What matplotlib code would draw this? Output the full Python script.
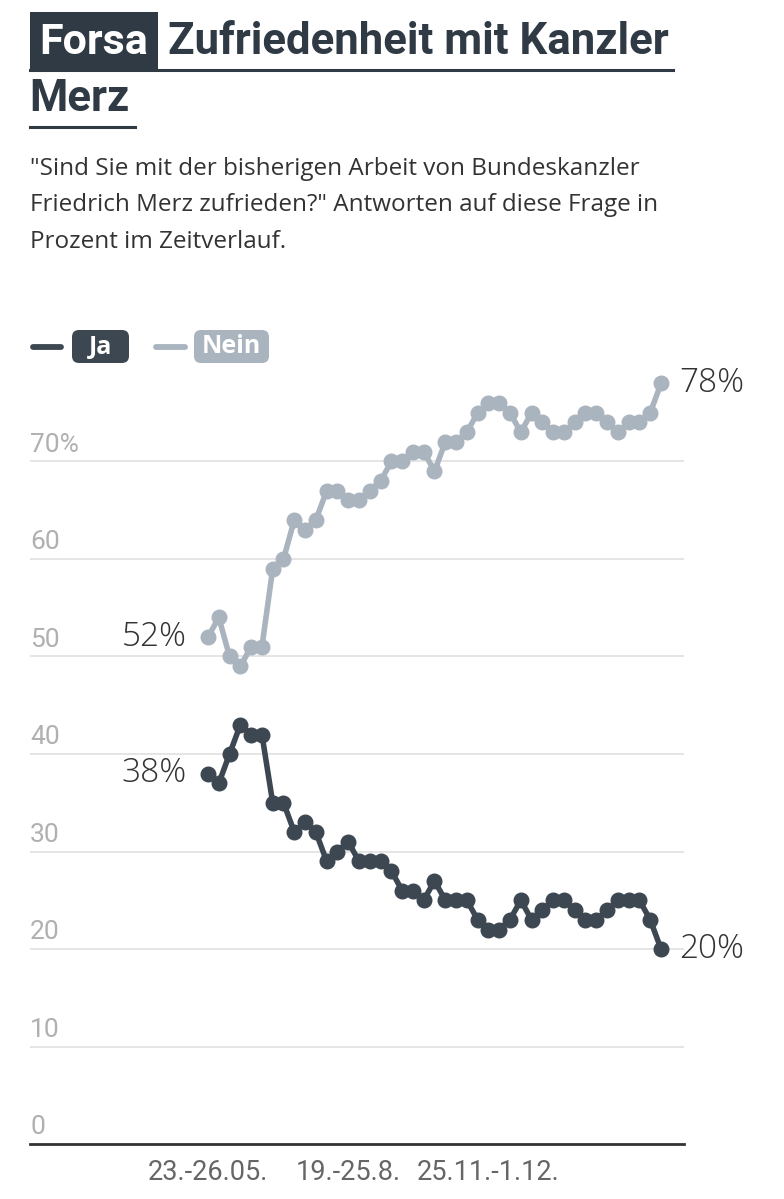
import matplotlib.pyplot as plt
from matplotlib.lines import Line2D
from matplotlib.patches import Rectangle, FancyBboxPatch
from matplotlib.transforms import IdentityTransform

# Forsa weekly values (percent)
ja = [38, 37, 40, 43, 42, 42, 35, 35, 32, 33, 32, 29, 30, 31, 29, 29, 29, 28, 26, 26,
      25, 27, 25, 25, 25, 23, 22, 22, 23, 25, 23, 24, 25, 25, 24, 23, 23, 24, 25, 25,
      25, 23, 20]
nein = [52, 54, 50, 49, 51, 51, 59, 60, 64, 63, 64, 67, 67, 66, 66, 67, 68, 70, 70, 71,
        71, 69, 72, 72, 73, 75, 76, 76, 75, 73, 75, 74, 73, 73, 74, 75, 75, 74, 73, 74,
        74, 75, 78]
x_ticks = [0, 13, 26]
x_labels = ["23.-26.05.", "19.-25.8.", "25.11.-1.12."]
y_ticks = [0, 10, 20, 30, 40, 50, 60, 70]
y_labels = ["0", "10", "20", "30", "40", "50", "60", "70%"]

c_ja = "#3d4751"
c_nein = "#aab4be"
c_text = "#2f3a44"

W, H = 784, 1199
fig = plt.figure(figsize=(W / 100, H / 100), dpi=100)
plt.rcParams['font.family'] = ['Open Sans', 'DejaVu Sans']
title_font = ['Roboto', 'DejaVu Sans']
tick_font = ['Roboto', 'DejaVu Sans']


def fx(px):
    return px / W


def fy(py):
    return 1 - py / H


# header
fig.add_artist(Rectangle((fx(30), fy(70)), fx(128), 58 / H, transform=fig.transFigure,
                         fc=c_text, ec='none'))
fig.text(fx(94), fy(42), "Forsa", fontsize=31, fontweight='bold', color='white',
         va='center', ha='center', family=title_font)
fig.text(fx(168), fy(42), "Zufriedenheit mit Kanzler", fontsize=31.5, fontweight='bold',
         color=c_text, va='center', ha='left', family=title_font)
fig.text(fx(29), fy(99), "Merz", fontsize=31.5, fontweight='bold', color=c_text,
         va='center', ha='left', family=title_font)
fig.add_artist(Line2D([fx(30), fx(673)], [fy(69.5), fy(69.5)], color=c_text, lw=2.2))
fig.add_artist(Line2D([fx(30), fx(135)], [fy(127), fy(127)], color=c_text, lw=2.2))

sub = ['"Sind Sie mit der bisherigen Arbeit von Bundeskanzler',
       'Friedrich Merz zufrieden?" Antworten auf diese Frage in',
       'Prozent im Zeitverlauf.']
for i, line in enumerate(sub):
    fig.text(fx(30), fy(169 + i * 36.5), line, fontsize=17.5, color='#333333',
             va='center', ha='left')

# legend
fig.add_artist(Line2D([fx(33), fx(61)], [fy(347), fy(347)], color=c_ja, lw=4.2,
                      solid_capstyle='round'))
fig.add_artist(FancyBboxPatch((72, H - 363), 57, 33, transform=IdentityTransform(),
                              boxstyle='round,pad=0,rounding_size=7', fc=c_ja, ec='none'))
fig.text(fx(100.5), fy(347), "Ja", fontsize=18, fontweight='bold', color='white',
         va='center', ha='center')
fig.add_artist(Line2D([fx(156), fx(185)], [fy(347), fy(347)], color=c_nein, lw=4.2,
                      solid_capstyle='round'))
fig.add_artist(FancyBboxPatch((194, H - 363), 75, 33, transform=IdentityTransform(),
                              boxstyle='round,pad=0,rounding_size=7', fc=c_nein, ec='none'))
fig.text(fx(231.5), fy(347), "Nein", fontsize=18, fontweight='bold', color='white',
         va='center', ha='center')

# chart
ax = fig.add_axes([fx(30), 1 - 1144 / H, (684 - 30) / W, 780 / H])
x = list(range(len(ja)))
step = (661 - 208) / (len(ja) - 1)
ax.set_xlim(-(208 - 30) / step, (len(ja) - 1) + (684 - 661) / step)
ax.set_ylim(0, 80)

for v in y_ticks[1:]:
    ax.axhline(v, color='#e3e3e3', lw=1.3, zorder=0)
ax.axhline(0, color='#333333', lw=2, zorder=1, clip_on=False)

for v, lab in zip(y_ticks, y_labels):
    ax.annotate(lab, xy=(0, v), xycoords=('axes fraction', 'data'), xytext=(0, 3.5),
                textcoords='offset points', ha='left', va='bottom', fontsize=19,
                color='#b0b0b0', family=tick_font)

ax.plot(x, nein, color=c_nein, lw=4, marker='o', ms=10.5, clip_on=False, zorder=3)
ax.plot(x, ja, color=c_ja, lw=4, marker='o', ms=10.5, clip_on=False, zorder=3)

for val, side in [(nein[0], 0), (ja[0], 0), (nein[-1], -1), (ja[-1], -1)]:
    if side == 0:
        ax.annotate(f"{val}%", xy=(x[0], val), xytext=(-15, 0), textcoords='offset points',
                    ha='right', va='center', fontsize=24, fontweight='light',
                    color='#333333')
    else:
        ax.annotate(f"{val}%", xy=(x[-1], val), xytext=(13, 0), textcoords='offset points',
                    ha='left', va='center', fontsize=24, fontweight='light',
                    color='#333333')

ax.set_xticks(x_ticks)
ax.set_xticklabels(x_labels, fontsize=19.5, color='#666666', family=tick_font)
ax.tick_params(axis='x', length=0, pad=11)
ax.set_yticks([])
for s in ax.spines.values():
    s.set_visible(False)

fig.savefig("out.png", dpi=100, facecolor='white')
